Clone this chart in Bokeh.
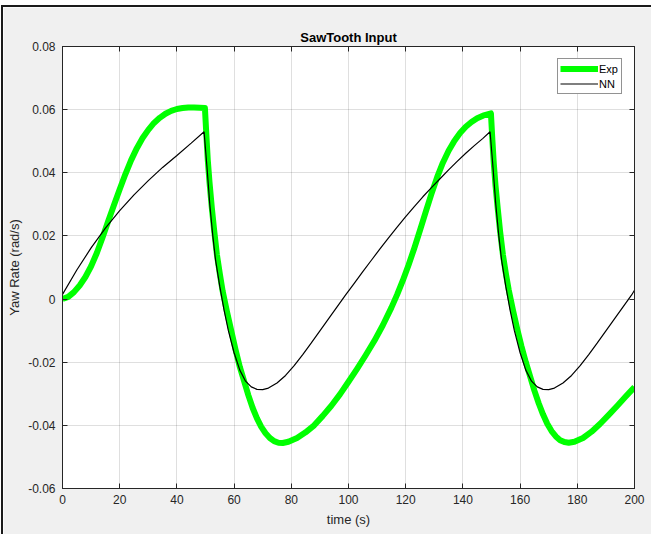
from bokeh.plotting import figure
from bokeh.models import LinearAxis, FixedTicker, Legend, LegendItem
from bokeh.embed import file_html
from bokeh.resources import INLINE

# ---- data ----
exp_t = [0, 2, 4, 6, 8, 10, 12, 14, 16, 18, 20, 22, 24, 26, 28, 30, 32, 34, 36, 38, 40, 42, 44, 46, 48, 49.8,
         50.3, 50.8, 51.4, 52.2, 53.0, 54.0, 55.0, 56.0, 57.5, 59.0, 60.5, 62.0, 63.5, 65.0, 66.5, 68.0, 69.5,
         71.0, 72.5, 74.0, 75.5, 77, 79, 82, 85, 88, 91, 94, 97, 100, 103, 106, 109, 112, 115, 117, 119, 121,
         123, 125, 127, 129, 131, 133, 135, 137, 139, 141, 143, 145, 147, 149.8,
         150.3, 150.8, 151.4, 152.2, 153, 154, 155, 156, 157.5, 159, 160.5, 162, 163.5, 165, 166.5, 168, 169.5,
         171, 172.5, 174, 175.5, 177, 179, 182, 185, 188, 191, 194, 197, 200]
exp_y = [0.0000, 0.0007, 0.0022, 0.0043, 0.0070, 0.0104, 0.0146, 0.0195, 0.0247, 0.0298, 0.0348, 0.0396,
         0.0440, 0.0478, 0.0510, 0.0536, 0.0558, 0.0574, 0.0587, 0.0596, 0.0602, 0.0605, 0.0607, 0.0607,
         0.0606, 0.0605,
         0.0520, 0.0440, 0.0370, 0.0290, 0.0220, 0.0140, 0.0080, 0.0025, -0.0040, -0.0100, -0.0160, -0.0215,
         -0.0260, -0.0305, -0.0345, -0.0378, -0.0405, -0.0425, -0.0440, -0.0450, -0.0455, -0.0456, -0.0452,
         -0.0440, -0.0422, -0.0400, -0.0370, -0.0338, -0.0302, -0.0262, -0.0221, -0.0178, -0.0133, -0.0083,
         -0.0027, 0.0014, 0.0059, 0.0108, 0.0161, 0.0218, 0.0276, 0.0333, 0.0386, 0.0432, 0.0470, 0.0501,
         0.0526, 0.0546, 0.0561, 0.0573, 0.0581, 0.0588,
         0.0505, 0.0430, 0.0360, 0.0285, 0.0215, 0.0140, 0.0082, 0.0030, -0.0035, -0.0095, -0.0150, -0.0200,
         -0.0245, -0.0290, -0.0330, -0.0365, -0.0395, -0.0418, -0.0435, -0.0447, -0.0453, -0.0455, -0.0452,
         -0.0440, -0.0420, -0.0395, -0.0367, -0.0338, -0.0308, -0.0279]

nn_t = [0, 5, 10, 15, 20, 25, 30, 35, 40, 45, 49.5, 50.5, 51.5, 52.5, 53.5, 55, 56.5, 58, 60, 62, 64, 66, 68,
        70, 72, 75, 78, 81, 84, 87, 90, 93, 96, 99, 102, 105, 108, 111, 114, 117, 120, 123, 126, 129, 132,
        135, 138, 141, 144, 147, 149.5, 150.5, 151.5, 152.5, 153.5, 155, 156.5, 158, 160, 162, 164, 166, 168,
        170, 172, 175, 178, 181, 184, 187, 190, 193, 196, 199, 200]
nn_y = [0.0015, 0.0092, 0.0162, 0.0225, 0.0280, 0.0330, 0.0375, 0.0417, 0.0455, 0.0494, 0.0530, 0.0420,
        0.0300, 0.0205, 0.0125, 0.0040, -0.0035, -0.0100, -0.0170, -0.0225, -0.0260, -0.0278, -0.0286,
        -0.0287, -0.0282, -0.0266, -0.0242, -0.0211, -0.0176, -0.0139, -0.0101, -0.0063, -0.0025, 0.0013,
        0.0050, 0.0087, 0.0123, 0.0159, 0.0194, 0.0228, 0.0261, 0.0293, 0.0324, 0.0353, 0.0381, 0.0409,
        0.0436, 0.0462, 0.0486, 0.0509, 0.0530, 0.0420, 0.0300, 0.0205, 0.0125, 0.0040, -0.0035, -0.0100,
        -0.0170, -0.0225, -0.0260, -0.0278, -0.0286, -0.0287, -0.0282, -0.0266, -0.0242, -0.0211, -0.0176,
        -0.0139, -0.0101, -0.0063, -0.0025, 0.0013, 0.0028]

x_ticks = [0, 20, 40, 60, 80, 100, 120, 140, 160, 180, 200]
y_ticks = [-0.06, -0.04, -0.02, 0, 0.02, 0.04, 0.06, 0.08]
y_tick_labels = ["-0.06", "-0.04", "-0.02", "0", "0.02", "0.04", "0.06", "0.08"]

FONT = "Liberation Sans"
TXT = "#262626"

p = figure(width=650, height=529, x_range=(0, 200), y_range=(-0.06, 0.08),
           output_backend="svg", toolbar_location=None,
           min_border_left=59, min_border_right=19, min_border_top=39, min_border_bottom=48,
           background_fill_color="white", border_fill_color="#f0f0f0")
p.styles = {"margin-left": "1px", "margin-top": "5px",
            "border-left": "2px solid #1a1a1a", "border-top": "2px solid #1a1a1a"}

p.title.text = "SawTooth Input"
p.title.align = "center"
p.title.text_font = FONT
p.title.text_font_size = "13px"
p.title.text_font_style = "bold"
p.title.text_color = "#000000"
p.title.standoff = 3

p.outline_line_color = TXT
p.outline_line_width = 1

for ax in (p.xaxis[0], p.yaxis[0]):
    ax.major_label_text_font = FONT
    ax.major_label_text_font_size = "12px"
    ax.major_label_text_color = TXT
    ax.axis_label_text_font = FONT
    ax.axis_label_text_font_size = "13px"
    ax.axis_label_text_font_style = "normal"
    ax.axis_label_text_color = TXT
    ax.axis_line_color = TXT
    ax.major_tick_line_color = TXT
    ax.major_tick_in = 5
    ax.major_tick_out = 0
    ax.minor_tick_line_color = None

p.xaxis.ticker = FixedTicker(ticks=x_ticks)
p.yaxis.ticker = FixedTicker(ticks=y_ticks)
p.yaxis.major_label_overrides = {v: s for v, s in zip(y_ticks, y_tick_labels)}
p.xaxis.axis_label = "time (s)"
p.yaxis.axis_label = "Yaw Rate (rad/s)"
p.xaxis.major_label_standoff = 6
p.xaxis.axis_label_standoff = 5
p.yaxis.major_label_standoff = 7
p.yaxis.axis_label_standoff = 3

for side, ticks in (("right", y_ticks), ("above", x_ticks)):
    ax = LinearAxis(ticker=FixedTicker(ticks=ticks))
    ax.major_label_text_font_size = "0px"
    ax.major_label_text_color = None
    ax.major_label_standoff = 0
    ax.axis_line_color = TXT
    ax.major_tick_line_color = TXT
    ax.major_tick_in = 5
    ax.major_tick_out = 0
    ax.minor_tick_line_color = None
    p.add_layout(ax, side)

p.xgrid.ticker = FixedTicker(ticks=x_ticks)
p.ygrid.ticker = FixedTicker(ticks=y_ticks)
p.grid.grid_line_color = TXT
p.grid.grid_line_alpha = 0.15

r_exp = p.line(exp_t, exp_y, line_color="#00ff00", line_width=6, line_join="round")
r_nn = p.line(nn_t, nn_y, line_color="#000000", line_width=1.2)

legend = Legend(items=[LegendItem(label="Exp", renderers=[r_exp]),
                       LegendItem(label="NN", renderers=[r_nn])],
                location="top_right", margin=12, padding=2, spacing=0,
                glyph_width=38, glyph_height=15, label_height=15, label_standoff=1,
                label_text_font=FONT, label_text_font_size="11px", label_text_color="#000000",
                border_line_color=TXT, border_line_width=1, background_fill_color="white",
                background_fill_alpha=1)
p.add_layout(legend, "center")

open("out.html", "w").write(file_html(p, INLINE))
